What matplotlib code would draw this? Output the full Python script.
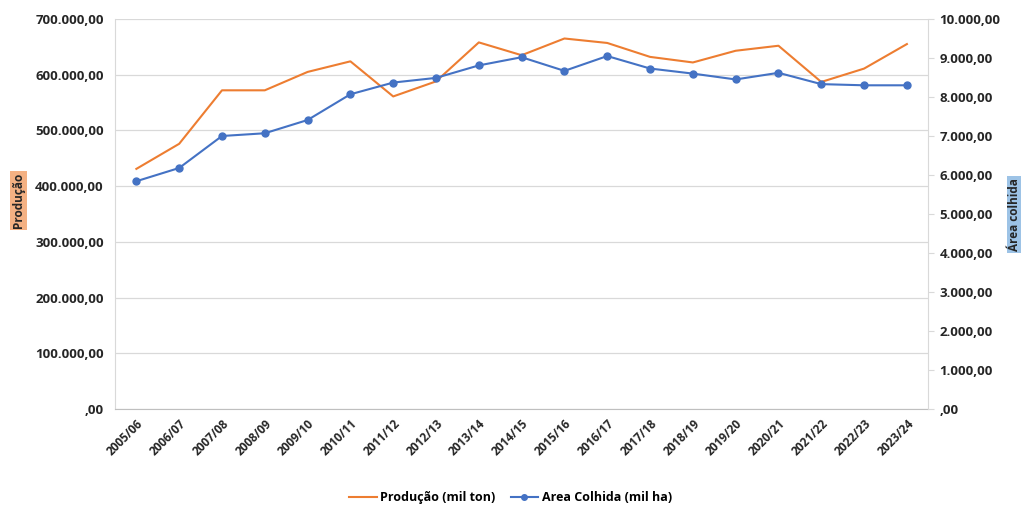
import matplotlib
matplotlib.use('Agg')
import matplotlib.pyplot as plt
from matplotlib.ticker import FuncFormatter, MultipleLocator
import numpy as np

#safras (categorias do eixo x)
safras = ['2005/06', '2006/07', '2007/08', '2008/09', '2009/10', '2010/11', '2011/12',
          '2012/13', '2013/14', '2014/15', '2015/16', '2016/17', '2017/18', '2018/19',
          '2019/20', '2020/21', '2021/22', '2022/23', '2023/24']

#producao (mil ton) - eixo esquerdo
producao = [431000, 476000, 572000, 572000, 605000, 624000, 561000, 588000, 658000, 635000,
            665000, 657000, 632000, 622000, 643000, 652000, 587000, 611000, 655000]

#area colhida (mil ha) - eixo direito
area = [5840, 6180, 7000, 7070, 7410, 8070, 8370, 8490, 8810, 9020,
        8670, 9050, 8730, 8600, 8450, 8620, 8330, 8300, 8300]

laranja = '#ED7D31'
azul = '#4472C4'
fonte = 'Open Sans'


#numero no formato brasileiro: 700.000,00 e ,00 para zero
def fmt_br(v, pos=None):
    if v == 0:
        return ',00'
    s = '{:,.2f}'.format(v)
    return s.replace(',', 'X').replace('.', ',').replace('X', '.')


fig = plt.figure(figsize=(10.21, 5.08), dpi=100)
ax = fig.add_axes([0.1126, 0.1949, 0.7966, 0.7677])
ax2 = ax.twinx()

x = np.arange(len(safras))
l1, = ax.plot(x, producao, color=laranja, lw=1.5, label='Produção (mil ton)', zorder=3)
l2, = ax2.plot(x, area, color=azul, lw=1.5, marker='o', ms=5,
               label='Area Colhida (mil ha)', zorder=3)

ax.set_xlim(-0.5, len(safras) - 0.5)
ax.set_ylim(0, 700000)
ax2.set_ylim(0, 10000)
ax.yaxis.set_major_locator(MultipleLocator(100000))
ax2.yaxis.set_major_locator(MultipleLocator(1000))
ax.yaxis.set_major_formatter(FuncFormatter(fmt_br))
ax2.yaxis.set_major_formatter(FuncFormatter(fmt_br))

#grade so do eixo esquerdo
ax.grid(axis='y', color='#D9D9D9', lw=0.9)
ax.set_axisbelow(True)

for a in (ax, ax2):
    for s in a.spines.values():
        s.set_visible(False)
ax.spines['left'].set_visible(True)
ax.spines['left'].set_color('#D9D9D9')
ax.spines['bottom'].set_visible(True)
ax.spines['bottom'].set_color('#BFBFBF')
ax2.spines['right'].set_visible(True)
ax2.spines['right'].set_color('#D9D9D9')

ax.set_xticks(x)
ax.set_xticklabels(safras, rotation=45, ha='right', rotation_mode='anchor',
                   fontsize=8.5, fontweight='bold', family=fonte, color='#262626')
ax.tick_params(axis='x', length=0, pad=6)
ax.tick_params(axis='y', length=0, pad=8)
ax2.tick_params(axis='y', length=4, color='#D9D9D9', pad=4)
for t in ax.get_yticklabels() + ax2.get_yticklabels():
    t.set_fontsize(9.5)
    t.set_fontweight('bold')
    t.set_family(fonte)
    t.set_color('#262626')

#titulos dos eixos com fundo colorido
fig.text(0.018, 0.606, 'Produção', rotation=90, ha='center', va='center',
         fontsize=8.5, fontweight='bold', family=fonte, color='#262626',
         bbox=dict(boxstyle='square,pad=0.15', fc='#F4B183', ec='none'))
fig.text(0.994, 0.578, 'Área colhida', rotation=90, ha='center', va='center',
         fontsize=8.5, fontweight='bold', family=fonte, color='#262626',
         bbox=dict(boxstyle='square,pad=0.15', fc='#9DC3E6', ec='none'))

fig.legend(handles=[l1, l2], loc='center', bbox_to_anchor=(0.5, 0.02), ncol=2,
           frameon=False, handlelength=2.2, columnspacing=1.2, handletextpad=0.3,
           markerscale=0.8, prop={'family': fonte, 'weight': 'bold', 'size': 9})

fig.savefig('out.png', dpi=100, facecolor='white')
